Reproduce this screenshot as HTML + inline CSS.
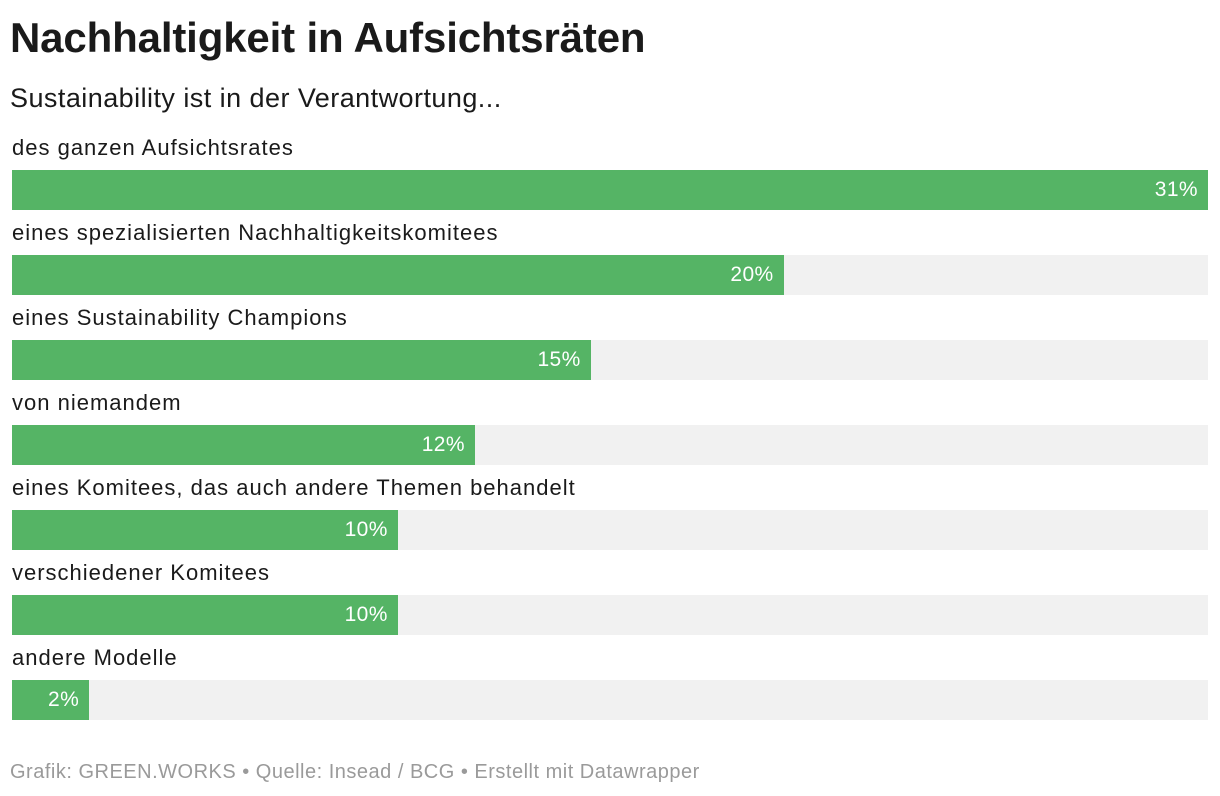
<!DOCTYPE html>
<html><head><meta charset="utf-8">
<style>
body{margin:0;width:1220px;height:796px;background:#fff;font-family:"Liberation Sans",Arial,sans-serif;color:#1a1a1a;position:relative;overflow:hidden}
#title{position:absolute;left:10px;top:14px;font-size:42px;font-weight:bold;letter-spacing:-0.15px;margin:0}
#sub{position:absolute;left:10px;top:83px;font-size:27px;letter-spacing:0.45px}
.lab{position:absolute;left:12px;font-size:22px;letter-spacing:1.0px;white-space:nowrap}
.track{position:absolute;left:12px;width:1196px;height:40px;background:#f1f1f1}
.bar{position:absolute;left:0;top:0;height:40px;background:#55b465}
.val{position:absolute;top:0;line-height:40px;font-size:21px;letter-spacing:0.4px;color:#fff;text-align:right}
#foot{position:absolute;left:10px;top:761px;font-size:20px;letter-spacing:0.5px;color:#9a9a9a}
</style></head><body>
<h1 id="title">Nachhaltigkeit in Aufsichtsräten</h1>
<div id="sub">Sustainability ist in der Verantwortung...</div>
<div id="chart"></div>
<div id="foot">Grafik: GREEN.WORKS • Quelle: Insead / BCG • Erstellt mit Datawrapper</div>
<script>
const categories=["des ganzen Aufsichtsrates","eines spezialisierten Nachhaltigkeitskomitees","eines Sustainability Champions","von niemandem","eines Komitees, das auch andere Themen behandelt","verschiedener Komitees","andere Modelle"];
const values=[31,20,15,12,10,10,2];
const valueLabels=["31%","20%","15%","12%","10%","10%","2%"];
const maxV=31,W=1196;
const x=v=>v/maxV*W;
const rowY=i=>170+i*85;
const chart=document.getElementById('chart');
categories.forEach((c,i)=>{
  const l=document.createElement('div');l.className='lab';l.style.top=(rowY(i)-35)+'px';l.textContent=c;
  
  
  chart.appendChild(l);
  const t=document.createElement('div');t.className='track';t.style.top=rowY(i)+'px';
  
  
  const b=document.createElement('div');b.className='bar';b.style.width=x(values[i])+'px';
  
  
  const v=document.createElement('div');v.className='val';v.style.left='0';v.style.width=(x(values[i])-10)+'px';v.textContent=valueLabels[i];
  
  
  t.appendChild(b);t.appendChild(v);chart.appendChild(t);
});
</script>
</body></html>
